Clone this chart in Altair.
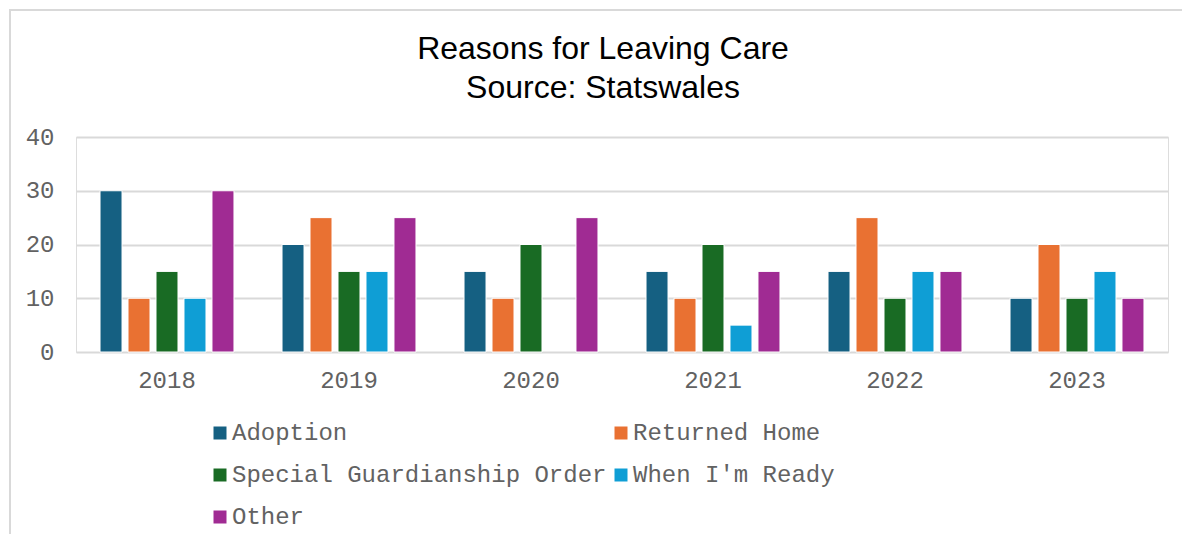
import altair as alt
import pandas as pd

years = ["2018", "2019", "2020", "2021", "2022", "2023"]
series = ["Adoption", "Returned Home", "Special Guardianship Order", "When I'm Ready", "Other"]
adoption = [30, 20, 15, 15, 15, 10]
returned_home = [10, 25, 10, 10, 25, 20]
special_guardianship = [15, 15, 20, 20, 10, 10]
when_ready = [10, 15, 0, 5, 15, 15]
other = [30, 25, 25, 15, 15, 10]
colors = ["#156082", "#E97132", "#196B24", "#0F9ED5", "#A02B93"]
y_ticks = [0, 10, 20, 30, 40]

values = [adoption, returned_home, special_guardianship, when_ready, other]
rows = []
for s, vals in zip(series, values):
    for y, v in zip(years, vals):
        rows.append({"Year": y, "Reason": s, "Value": v})
df = pd.DataFrame(rows)

MONO = "Liberation Mono"
GREY = "#626262"

bars = alt.Chart(df).mark_bar(strokeWidth=1).encode(
    x=alt.X("Year:N", sort=years, title=None,
            scale=alt.Scale(paddingInner=0.264, paddingOuter=0.132),
            axis=alt.Axis(labelAngle=0, labelFont=MONO, labelFontSize=24, labelColor=GREY,
                          labelPadding=16, ticks=False, domain=False, grid=False)),
    xOffset=alt.XOffset("Reason:N", sort=series,
                        scale=alt.Scale(paddingInner=0.2143, paddingOuter=0)),
    y=alt.Y("Value:Q", title=None,
            scale=alt.Scale(domain=[0, 40], nice=False),
            axis=alt.Axis(values=y_ticks, labelFont=MONO, labelFontSize=24, labelColor=GREY,
                          labelPadding=22, ticks=False, domain=False,
                          gridColor="#d9d9d9", gridWidth=2)),
    color=alt.Color("Reason:N", sort=series,
                    scale=alt.Scale(domain=series, range=colors),
                    legend=alt.Legend(title=None, orient="none", legendX=132, legendY=284,
                                      direction="horizontal", columns=2,
                                      columnPadding=2, rowPadding=18,
                                      symbolType="square", symbolSize=169, symbolStrokeWidth=0,
                                      labelFont=MONO, labelFontSize=24, labelColor=GREY,
                                      labelLimit=0, labelOffset=0, padding=0)),
    stroke=alt.condition("datum.Value > 0", alt.value("white"), alt.value("transparent")),
)

frame = alt.Chart(alt.Data(values=[{}])).mark_rect(fill=None, stroke="#d9d9d9", strokeWidth=2).encode(
    x=alt.value(-66), x2=alt.value(1300), y=alt.value(-127), y2=alt.value(600)
)

chart = alt.layer(frame, bars).properties(
    width=1092, height=215,
    title=alt.TitleParams(text=["Reasons for Leaving Care", "Source: Statswales"],
                          font="Liberation Sans", fontSize=32, fontWeight="normal",
                          color="black", anchor="middle", lineHeight=39, dx=-19,
                          offset=0, dy=96),
    autosize=alt.AutoSizeParams(type="none"),
    padding={"left": 68, "top": 129, "right": 14, "bottom": 182},
).configure_view(stroke=None).configure(background="white")

chart.save("out.html", embed_options={"renderer": "svg", "actions": False})
